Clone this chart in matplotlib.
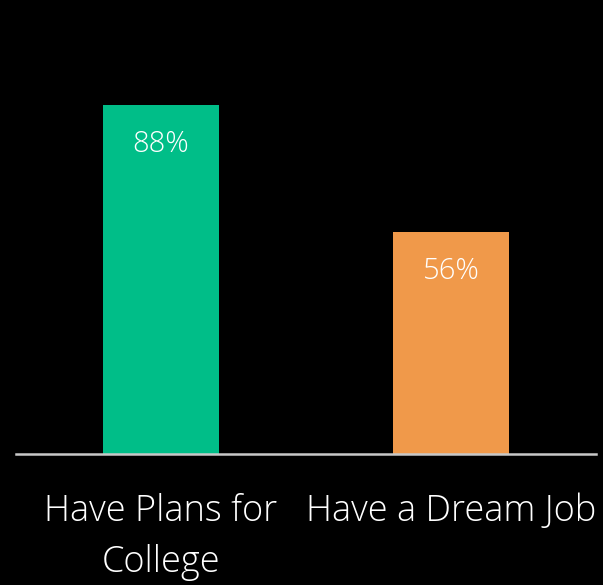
import matplotlib.pyplot as plt
import numpy as np

categories = ['Have Plans for\nCollege', 'Have a Dream Job']
values = [88, 56]
value_labels = ['88%', '56%']
colors = ['#00BE88', '#F0994A']

plt.rcParams['font.family'] = ['Open Sans', 'DejaVu Sans']

fig = plt.figure(figsize=(6.03, 5.85), dpi=100, facecolor='black')
ax = fig.add_axes([16/603, 131/585, 580/603, 454/585])
ax.set_facecolor('black')

x = np.arange(len(categories))
bars = ax.bar(x, values, width=0.4, color=colors)

for b, lab in zip(bars, value_labels):
    ax.text(b.get_x() + b.get_width()/2, b.get_height() - 10, lab,
            ha='center', va='center', color='white', fontsize=21, fontweight='light')

ax.set_xlim(-0.5, 1.5)
ax.set_ylim(0, 114.5)
ax.set_xticks(x)
ax.set_xticklabels(categories, color='white', fontsize=26, fontweight='light', linespacing=1.5)
ax.tick_params(axis='x', length=0, pad=28)
ax.set_yticks([])
for s in ['top', 'right', 'left']:
    ax.spines[s].set_visible(False)
ax.spines['bottom'].set_color('#c8c8c8')
ax.spines['bottom'].set_linewidth(1.8)

fig.savefig('out.png', dpi=100, facecolor='black')
